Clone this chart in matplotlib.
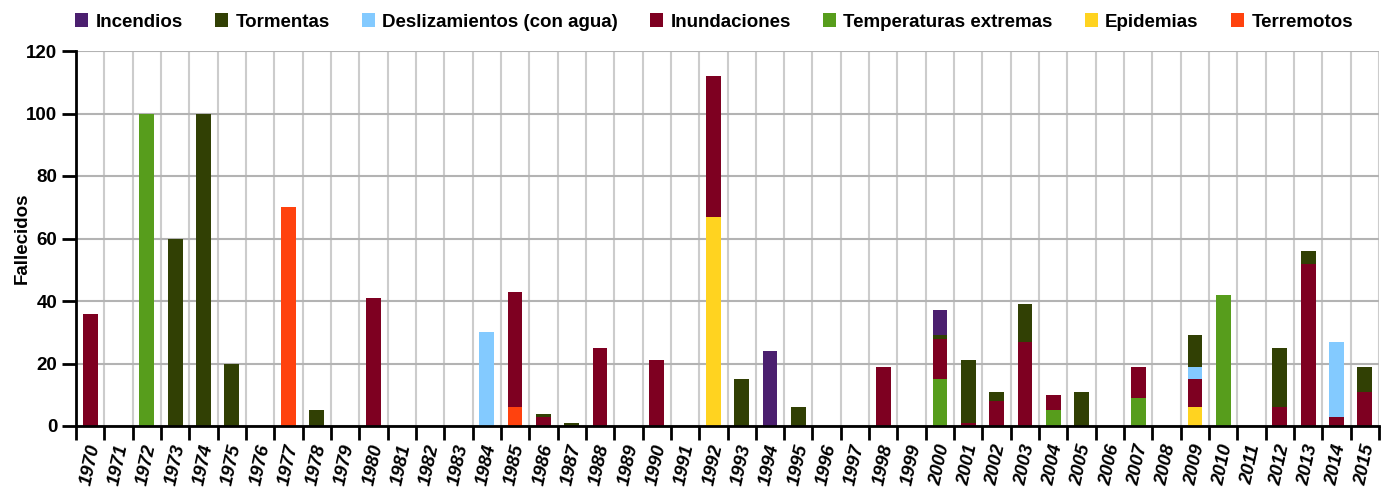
import matplotlib
matplotlib.use('Agg')
import matplotlib.pyplot as plt
from matplotlib.ticker import FixedLocator, MultipleLocator
import numpy as np

plt.rcParams['font.family'] = ['Liberation Sans', 'DejaVu Sans']
plt.rcParams['font.weight'] = 'bold'

years = list(range(1970, 2016))

# deaths per year and type
terremotos = {1977: 70, 1985: 6}
epidemias = {1992: 67, 2009: 6}
temperaturas = {1972: 100, 2000: 15, 2004: 5, 2007: 9, 2010: 42}
inundaciones = {1970: 36, 1980: 41, 1985: 37, 1986: 3, 1988: 25, 1990: 21, 1992: 45,
                1998: 19, 2000: 13, 2001: 1, 2002: 8, 2003: 27, 2004: 5, 2007: 10,
                2009: 9, 2012: 6, 2013: 52, 2014: 3, 2015: 11}
deslizamientos = {1984: 30, 2009: 4, 2014: 24}
tormentas = {1973: 60, 1974: 100, 1975: 20, 1978: 5, 1986: 1, 1987: 1, 1993: 15,
             1995: 6, 2000: 1, 2001: 20, 2002: 3, 2003: 12, 2005: 11, 2009: 10,
             2012: 19, 2013: 4, 2015: 8}
incendios = {1994: 24, 2000: 8}

# bottom-to-top stacking order
series = [
    ('Terremotos', terremotos, '#ff420e'),
    ('Epidemias', epidemias, '#ffd320'),
    ('Temperaturas extremas', temperaturas, '#579d1c'),
    ('Inundaciones', inundaciones, '#7e0021'),
    ('Deslizamientos (con agua)', deslizamientos, '#83caff'),
    ('Tormentas', tormentas, '#314004'),
    ('Incendios', incendios, '#4b1f6f'),
]

fig = plt.figure(figsize=(13.88, 4.88), dpi=100)
ax = fig.add_axes([76/1388, 1 - 426/488, (1379 - 76)/1388, (426 - 51)/488])

x = np.arange(len(years))
bottom = np.zeros(len(years))
handles = []
for name, d, color in series:
    vals = np.array([d.get(y, 0) for y in years], dtype=float)
    b = ax.bar(x, vals, width=0.52, bottom=bottom, color=color, label=name, zorder=3)
    bottom += vals
    handles.append(b)

ax.set_xlim(-0.5, len(years) - 0.5)
ax.set_ylim(0, 120)
ax.yaxis.set_major_locator(MultipleLocator(20))
ax.set_xticks(x)
ax.set_xticklabels([str(y) for y in years], rotation=78, fontstyle='italic',
                   fontweight='bold', fontsize=13.5)
ax.xaxis.set_minor_locator(FixedLocator(np.arange(-0.5, len(years), 1)))
ax.tick_params(axis='x', which='major', length=0, pad=12)
ax.tick_params(axis='x', which='minor', length=10, width=2, color='black')
ax.tick_params(axis='y', length=10, width=2, labelsize=13.5)
for lbl in ax.get_yticklabels():
    lbl.set_fontweight('bold')

ax.grid(axis='y', which='major', color='#b3b3b3', lw=1.5, zorder=0)
ax.grid(axis='x', which='minor', color='#cccccc', lw=1.5, zorder=0)
ax.grid(axis='x', which='major', visible=False)

for s in ['top', 'right']:
    ax.spines[s].set_visible(False)
ax.spines['left'].set_linewidth(2)
ax.spines['bottom'].set_linewidth(2)
ax.spines['left'].set_zorder(4)
ax.spines['bottom'].set_zorder(4)

ax.set_ylabel('Fallecidos', fontsize=13.5, fontweight='bold', labelpad=-3)

fig.legend(handles[::-1], [s[0] for s in series][::-1], loc='center',
           bbox_to_anchor=(714/1388, 1 - 22/488), ncol=7, frameon=False,
           fontsize=13.5, handlelength=0.7, handleheight=0.7, handletextpad=0.4,
           columnspacing=1.7)

fig.savefig('out.png', dpi=100)
